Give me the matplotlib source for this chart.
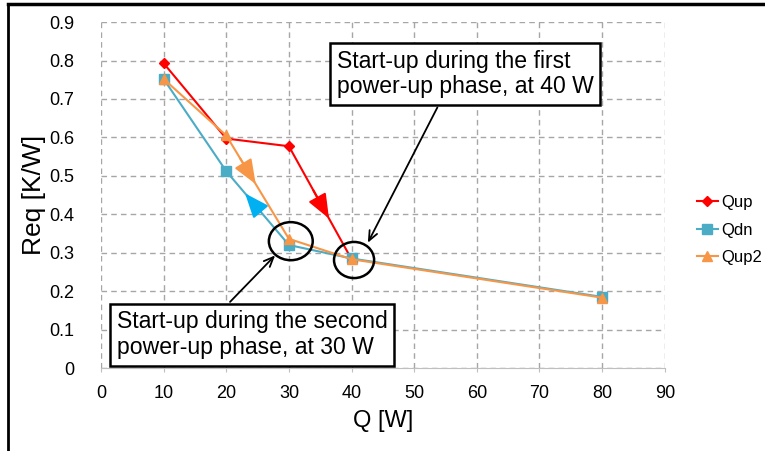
import matplotlib
matplotlib.use("Agg")
import matplotlib.pyplot as plt
from matplotlib.patches import Ellipse
from matplotlib.lines import Line2D

plt.rcParams['font.family'] = ['Liberation Sans', 'DejaVu Sans']

# data
q_up = [10, 20, 30, 40]
req_up = [0.793, 0.597, 0.577, 0.283]
q_dn = [10, 20, 30, 40, 80]
req_dn = [0.752, 0.512, 0.320, 0.285, 0.185]
q_up2 = [10, 20, 30, 40, 80]
req_up2 = [0.752, 0.605, 0.336, 0.283, 0.183]

x_ticks = [0, 10, 20, 30, 40, 50, 60, 70, 80, 90]
y_ticks = [0, 0.1, 0.2, 0.3, 0.4, 0.5, 0.6, 0.7, 0.8, 0.9]
y_ticklabels = ['0', '0.1', '0.2', '0.3', '0.4', '0.5', '0.6', '0.7', '0.8', '0.9']

RED = '#FF0000'
BLUE = '#4BACC6'
ORANGE = '#F79646'

fig = plt.figure(figsize=(7.65, 4.51), dpi=100)
ax = fig.add_axes([0.132, 0.184, 0.737, 0.767])

ax.plot(q_up, req_up, color=RED, lw=1.5, marker='D', ms=5, label='Qup', zorder=3)
ax.plot(q_dn, req_dn, color=BLUE, lw=1.5, marker='s', ms=7, label='Qdn', zorder=4)
ax.plot(q_up2, req_up2, color=ORANGE, lw=1.5, marker='^', ms=7, label='Qup2', zorder=5)


def seg_arrow(xs, ys, i, frac, color, reverse=False):
    # arrow head sitting on segment i of a series
    x0, y0, x1, y1 = xs[i], ys[i], xs[i + 1], ys[i + 1]
    if reverse:
        x0, y0, x1, y1 = x1, y1, x0, y0
    tip = (x0 + (x1 - x0) * frac, y0 + (y1 - y0) * frac)
    tail = (x0 + (x1 - x0) * (frac - 0.25), y0 + (y1 - y0) * (frac - 0.25))
    ax.annotate('', xy=tip, xytext=tail,
                arrowprops=dict(arrowstyle='-|>,head_length=1.5,head_width=0.6',
                                color=color, lw=1.5, shrinkA=0, shrinkB=0),
                zorder=6)


seg_arrow(q_up, req_up, 2, 0.64, RED)
seg_arrow(q_up2, req_up2, 1, 0.47, ORANGE)
seg_arrow(q_dn, req_dn, 1, 0.70, '#00B0F0', reverse=True)

# circles around start-up points
ax.add_patch(Ellipse((30.3, 0.330), 7.0, 0.099, fill=False, ec='black', lw=1.8, zorder=7))
ax.add_patch(Ellipse((40.4, 0.281), 6.4, 0.094, fill=False, ec='black', lw=1.8, zorder=7))

box = dict(boxstyle='square,pad=0.3', fc='white', ec='black', lw=1.8)
ax.text(37.6, 0.765, 'Start-up during the first\npower-up phase, at 40 W',
        fontsize=16.6, va='center', ha='left', bbox=box, zorder=8, linespacing=1.12)
ax.text(2.5, 0.087, 'Start-up during the second\npower-up phase, at 30 W',
        fontsize=16.6, va='center', ha='left', bbox=box, zorder=8, linespacing=1.12)

ax.annotate('', xy=(42.6, 0.326), xytext=(53.7, 0.678),
            arrowprops=dict(arrowstyle='->,head_length=0.7,head_width=0.3',
                            color='black', lw=1.3, shrinkA=0, shrinkB=0), zorder=8)
ax.annotate('', xy=(27.8, 0.293), xytext=(20.6, 0.172),
            arrowprops=dict(arrowstyle='->,head_length=0.7,head_width=0.3',
                            color='black', lw=1.3, shrinkA=0, shrinkB=0), zorder=8)

ax.set_xlim(0, 90)
ax.set_ylim(0, 0.9)
ax.set_xticks(x_ticks)
ax.set_yticks(y_ticks)
ax.set_yticklabels(y_ticklabels)
ax.tick_params(axis='y', length=0, pad=19, labelsize=13)
ax.tick_params(axis='x', length=3, direction='out', color='#BFBFBF', pad=9, labelsize=13)
ax.grid(True, color='#A6A6A6', ls=(0, (4, 3)), lw=1)
ax.set_axisbelow(True)
for side in ['top', 'right', 'left']:
    ax.spines[side].set_visible(False)
ax.spines['bottom'].set_color('#BFBFBF')

ax.set_xlabel('Q [W]', fontsize=17, labelpad=6)
ax.set_ylabel('Req [K/W]', fontsize=19)
ax.yaxis.set_label_coords(-0.098, 0.5)

ax.legend(loc='center left', bbox_to_anchor=(0.891, 0.49), bbox_transform=fig.transFigure,
          frameon=False, fontsize=12, handlelength=1.3, handletextpad=0.2,
          labelspacing=0.75, borderpad=0.4)

# black frame lines at top and left of the picture
fig.add_artist(Line2D([0.0105, 1.0], [0.991, 0.991], color='black', lw=2.5))
fig.add_artist(Line2D([0.0105, 0.0105], [0.0, 0.991], color='black', lw=2))

fig.savefig('out.png', dpi=100, facecolor='white')
